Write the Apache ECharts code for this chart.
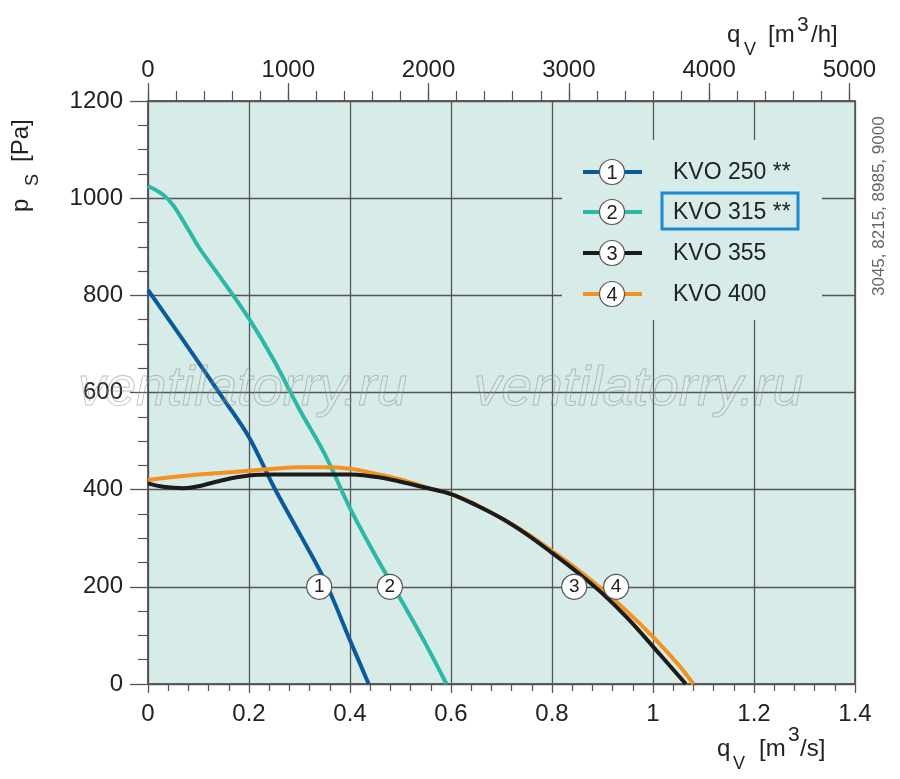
<!DOCTYPE html>
<html>
<head>
<meta charset="utf-8">
<script src="https://cdn.jsdelivr.net/npm/echarts@6/dist/echarts.min.js"></script>
<style>
  html, body { margin: 0; padding: 0; background: #fff; }
  #chart { width: 900px; height: 779px; }
</style>
</head>
<body>
<div id="chart"></div>
<script>
// fan curves, q in m3/s, p in Pa
var qKvo250 = [0, 0.05, 0.1, 0.15, 0.2, 0.25, 0.3, 0.35, 0.4, 0.437];
var pKvo250 = [811, 737, 662, 586, 508, 404, 310, 213, 90, 0];

var qKvo315 = [0, 0.03, 0.05, 0.08, 0.1, 0.15, 0.2, 0.25, 0.3, 0.35, 0.4, 0.45, 0.5, 0.55, 0.591];
var pKvo315 = [1025, 1007, 985, 935, 900, 827, 752, 665, 565, 473, 362, 265, 175, 82, 0];

var qKvo355 = [0, 0.03, 0.07, 0.1, 0.15, 0.2, 0.25, 0.3, 0.35, 0.4, 0.43, 0.48, 0.55, 0.6, 0.65, 0.7, 0.75, 0.8, 0.85, 0.9, 0.95, 1.0, 1.065];
var pKvo355 = [413, 406, 403, 407, 420, 429, 431, 431, 431, 431, 429, 421, 404, 391, 368, 341, 308, 270, 230, 186, 135, 77, 0];

var qKvo400 = [0, 0.05, 0.1, 0.15, 0.2, 0.25, 0.3, 0.35, 0.4, 0.45, 0.5, 0.55, 0.6, 0.65, 0.7, 0.75, 0.8, 0.85, 0.9, 0.95, 1.0, 1.05, 1.08];
var pKvo400 = [420, 426, 431, 435, 439, 443, 446, 446, 443, 433, 421, 405, 391, 369, 341, 310, 274, 236, 194, 148, 97, 40, 0];

var curveNames = ['KVO 250 **', 'KVO 315 **', 'KVO 355', 'KVO 400'];
var curveColors = ['#0b5a9c', '#2bb8a6', '#1b1b1b', '#f4921f'];

// numbered markers on the curves
var markQ = [0.339, 0.479, 0.844, 0.927];
var markP = [200, 200, 200, 200];
var markText = ['1', '2', '3', '4'];

// top axis in m3/h
var topMajor = [0, 1000, 2000, 3000, 4000, 5000];
var topMinor = [0, 200, 400, 600, 800, 1000, 1200, 1400, 1600, 1800, 2000, 2200, 2400, 2600, 2800,
                3000, 3200, 3400, 3600, 3800, 4000, 4200, 4400, 4600, 4800, 5000];

var bg = '#d7ebe8';
var gridColor = '#555';
var font = 'Liberation Sans, Arial, sans-serif';

function pairs(q, p) {
    return q.map(function (v, i) { return [v, p[i]]; });
}
function plain(v) {
    return String(v);
}

var dom = document.getElementById('chart');
var myChart = echarts.init(dom, null, { renderer: 'canvas' });

// legend drawn by hand (circled numbers)
var legendItems = [];
legendItems.push({
    type: 'rect', shape: { x: 562, y: 140, width: 260, height: 180 },
    style: { fill: bg }, z: 10
});
var rowY = [172, 212, 253, 294];
curveNames.forEach(function (name, i) {
    legendItems.push({
        type: 'line', shape: { x1: 583, y1: rowY[i], x2: 642, y2: rowY[i] },
        style: { stroke: curveColors[i], lineWidth: 4 }, z: 11
    });
    legendItems.push({
        type: 'circle', shape: { cx: 612, cy: rowY[i], r: 12.5 },
        style: { fill: '#fff', stroke: '#555', lineWidth: 1.2 }, z: 12
    });
    legendItems.push({
        type: 'text', x: 612, y: rowY[i] + 1, z: 13,
        style: { text: markText[i], font: '20px ' + font, fill: '#222', textAlign: 'center', textVerticalAlign: 'middle' }
    });
    legendItems.push({
        type: 'text', x: 673, y: rowY[i] + 1, z: 13,
        style: { text: name, font: '23px ' + font, fill: '#222', textAlign: 'left', textVerticalAlign: 'middle' }
    });
});
legendItems.push({
    type: 'rect', shape: { x: 662, y: 193, width: 136, height: 36 },
    style: { fill: 'none', stroke: '#1a8ad4', lineWidth: 3 }, z: 14
});

function txt(x, y, s, size) {
    return {
        type: 'text', x: x, y: y, z: 20,
        style: { text: s, font: size + 'px ' + font, fill: '#222', textAlign: 'left', textVerticalAlign: 'middle' }
    };
}

function watermark(x) {
    return {
        type: 'text', x: x, y: 390, z: 30,
        style: {
            text: 'ventilatorry.ru', font: 'italic 55px ' + font,
            fill: 'rgba(255,255,255,0.08)', stroke: 'rgba(120,130,130,0.5)', lineWidth: 0.9,
            textVerticalAlign: 'middle'
        }
    };
}

var titles = [
    // top: q_V [m3/h]
    txt(727, 35, 'q', 24), txt(744, 50, 'V', 18), txt(768, 35, '[m', 24), txt(797, 25, '3', 21), txt(811, 35, '/h]', 24),
    // bottom: q_V [m3/s]
    txt(717, 749, 'q', 24), txt(733, 764, 'V', 18), txt(759, 749, '[m', 24), txt(788, 735, '3', 21), txt(800, 749, '/s]', 24),
    // left: p_S [Pa]
    {
        type: 'group', x: 28, y: 212, rotation: Math.PI / 2,
        children: [
            { type: 'text', x: 0, y: -7, style: { text: 'p', font: '24px ' + font, fill: '#222', textVerticalAlign: 'middle' } },
            { type: 'text', x: 26, y: 5, style: { text: 'S', font: '18px ' + font, fill: '#222', textVerticalAlign: 'middle' } },
            { type: 'text', x: 50, y: -7, style: { text: '[Pa]', font: '24px ' + font, fill: '#222', textVerticalAlign: 'middle' } }
        ]
    },
    // side note
    {
        type: 'text', x: 879, y: 296, rotation: Math.PI / 2,
        style: { text: '3045, 8215, 8985, 9000', font: '17px ' + font, fill: '#666', textAlign: 'left', textVerticalAlign: 'middle' }
    },
    watermark(78),
    watermark(474)
];

var lineSeries = function (name, q, p, color, z) {
    return {
        name: name, type: 'line', xAxisIndex: 0, yAxisIndex: 0,
        data: pairs(q, p), smooth: 0.35, symbol: 'none', z: z,
        lineStyle: { color: color, width: 4 }
    };
};

option = {
    animation: false,
    backgroundColor: '#fff',
    grid: {
        left: 148, right: 45, top: 101, bottom: 95,
        show: true, backgroundColor: bg, borderColor: gridColor, borderWidth: 1.5
    },
    xAxis: [
        {
            type: 'value', position: 'bottom', min: 0, max: 1.4, interval: 0.2,
            axisLine: { show: true, onZero: false, lineStyle: { color: gridColor, width: 1.5 } },
            axisTick: { show: true, inside: false, length: 9, lineStyle: { color: gridColor, width: 1.3 } },
            minorTick: { show: true, splitNumber: 5, length: 7, lineStyle: { color: gridColor, width: 1.2 } },
            splitLine: { show: true, lineStyle: { color: gridColor, width: 1.3 } },
            axisLabel: { fontSize: 24, fontFamily: font, color: '#222', margin: 18, formatter: plain }
        },
        {
            type: 'value', position: 'top', min: 0, max: 5040, interval: 1000,
            axisLine: { show: true, onZero: false, lineStyle: { color: gridColor, width: 1.5 } },
            axisTick: { show: true, inside: false, length: 18, customValues: topMajor, lineStyle: { color: gridColor, width: 1.3 } },
            splitLine: { show: false },
            axisLabel: { fontSize: 24, fontFamily: font, color: '#222', margin: 19, customValues: topMajor, formatter: plain }
        },
        {
            type: 'value', position: 'top', min: 0, max: 5040, interval: 200,
            axisLine: { show: false, onZero: false },
            axisTick: { show: true, inside: false, length: 10, customValues: topMinor, lineStyle: { color: gridColor, width: 1.2 } },
            splitLine: { show: false },
            axisLabel: { show: false }
        }
    ],
    yAxis: [
        {
            type: 'value', min: 0, max: 1200, interval: 200,
            axisLine: { show: true, onZero: false, lineStyle: { color: gridColor, width: 1.5 } },
            axisTick: { show: true, inside: false, length: 18, lineStyle: { color: gridColor, width: 1.3 } },
            minorTick: { show: true, splitNumber: 4, length: 10, lineStyle: { color: gridColor, width: 1.2 } },
            splitLine: { show: true, lineStyle: { color: gridColor, width: 1.3 } },
            axisLabel: { fontSize: 24, fontFamily: font, color: '#222', margin: 25, formatter: plain }
        }
    ],
    graphic: legendItems.concat(titles),
    series: [
        lineSeries(curveNames[0], qKvo250, pKvo250, curveColors[0], 3),
        lineSeries(curveNames[1], qKvo315, pKvo315, curveColors[1], 3),
        lineSeries(curveNames[3], qKvo400, pKvo400, curveColors[3], 3),
        lineSeries(curveNames[2], qKvo355, pKvo355, curveColors[2], 4),
        {
            type: 'scatter', xAxisIndex: 0, yAxisIndex: 0, z: 6,
            data: pairs(markQ, markP),
            symbol: 'circle', symbolSize: 25,
            itemStyle: { color: '#fff', borderColor: '#555', borderWidth: 1.2, opacity: 1 },
            label: {
                show: true, position: 'inside', fontSize: 19, fontFamily: font, color: '#222',
                formatter: function (p) { return markText[p.dataIndex]; }
            }
        }
    ]
};

if (option && typeof option === "object") {
    myChart.setOption(option, true);
}
</script>
</body>
</html>
